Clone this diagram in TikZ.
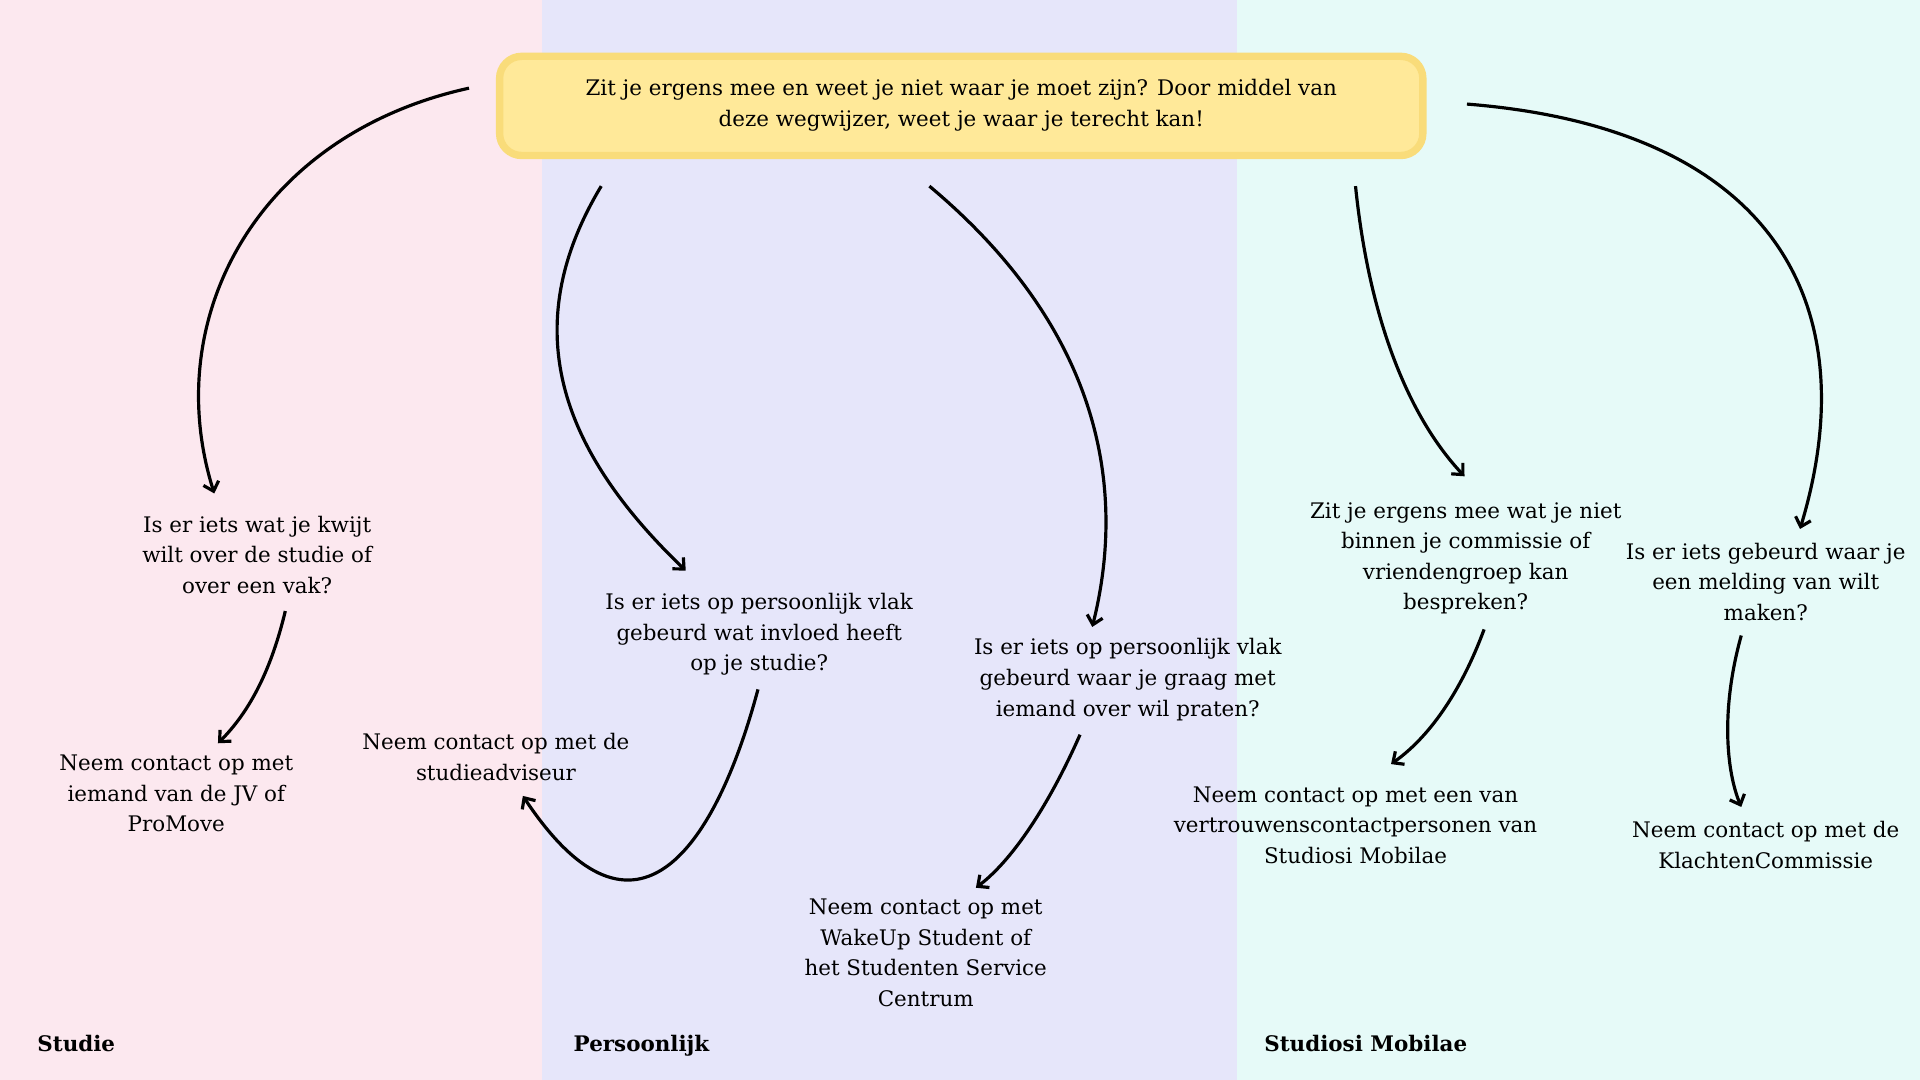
\documentclass[tikz,border=0pt]{standalone}
\usepackage{fontspec}
\setmainfont{DejaVu Serif}
\usetikzlibrary{arrows.meta}
\definecolor{studiebg}{HTML}{FCE8EF}
\definecolor{persbg}{HTML}{E6E6FA}
\definecolor{smbg}{HTML}{E6FAF8}
\definecolor{titlefill}{HTML}{FFE999}
\definecolor{titleline}{HTML}{F9DC7A}
\begin{document}
\begin{tikzpicture}[x=1pt,y=-1pt,
    every node/.style={align=center, font=\fontsize{17.5}{25}\selectfont},
    lane/.style={font=\fontsize{17.5}{25}\selectfont\bfseries},
    flow/.style={line width=2.6pt, -{Straight Barb[length=7pt,width=13pt]}}]
    
    \fill[studiebg] (0,0) rectangle (443,882);
    \fill[persbg] (443,0) rectangle (1010,882);
    \fill[smbg] (1010,0) rectangle (1568,882);
    \useasboundingbox (0,0) rectangle (1568,882);
    
    \draw[titleline, fill=titlefill, line width=6pt, rounded corners=18pt] (408,46) rectangle (1162,127);
    \node (title) at (785,86) {Zit je ergens mee en weet je niet waar je moet zijn? Door middel van\\deze wegwijzer, weet je waar je terecht kan!};
    
    \node (q1) at (210,453) {Is er iets wat je kwijt\\wilt over de studie of\\over een vak?};
    \node (a1) at (144,648) {Neem contact op met\\iemand van de JV of\\ProMove};
    \node (q2) at (620,518) {Is er iets op persoonlijk vlak\\gebeurd wat invloed heeft\\op je studie?};
    \node (a2) at (405,618) {Neem contact op met de\\studieadviseur};
    \node (q3) at (921,555) {Is er iets op persoonlijk vlak\\gebeurd waar je graag met\\iemand over wil praten?};
    \node (a3) at (756,778) {Neem contact op met\\WakeUp Student of\\het Studenten Service\\Centrum};
    \node (q4) at (1197,456) {Zit je ergens mee wat je niet\\binnen je commissie of\\vriendengroep kan\\bespreken?};
    \node (a4) at (1107,674) {Neem contact op met een van\\vertrouwenscontactpersonen van\\Studiosi Mobilae};
    \node (q5) at (1442,475) {Is er iets gebeurd waar je\\een melding van wilt\\maken?};
    \node (a5) at (1442,690) {Neem contact op met de\\KlachtenCommissie};
    
    \node[lane, anchor=base west] (lstudie) at (27,859) {Studie};
    \node[lane, anchor=base west] (lpers) at (465,859) {Persoonlijk};
    \node[lane, anchor=base west] (lsm) at (1029,859) {Studiosi Mobilae};
    
    % start and end points of the arrows
    \coordinate (t1) at (383,72);   \coordinate (e1) at (175,403);
    \coordinate (t2) at (491,152);  \coordinate (e2) at (560,466);
    \coordinate (t3) at (759,152);  \coordinate (e3) at (892,512);
    \coordinate (t4) at (1107,152); \coordinate (e4) at (1196,389);
    \coordinate (t5) at (1198,85);  \coordinate (e5) at (1470,432);
    \coordinate (s1) at (233,499);  \coordinate (f1) at (178,607);
    \coordinate (s2) at (619,563);  \coordinate (f2) at (427,650);
    \coordinate (s3) at (882,600);  \coordinate (f3) at (797,725);
    \coordinate (s4) at (1212,514); \coordinate (f4) at (1136,624);
    \coordinate (s5) at (1422,519); \coordinate (f5) at (1422,659);
    
    \draw[flow] (t1) .. controls (210,110) and (130,260) .. (e1);
    \draw[flow] (t2) .. controls (420,270) and (460,370) .. (e2);
    \draw[flow] (t3) .. controls (900,270) and (920,400) .. (e3);
    \draw[flow] (t4) .. controls (1118,260) and (1150,340) .. (e4);
    \draw[flow] (t5) .. controls (1450,105) and (1525,250) .. (e5);
    
    \draw[flow] (s1) .. controls (222,545) and (205,580) .. (f1);
    \draw[flow] (s2) .. controls (585,690) and (520,790) .. (f2);
    \draw[flow] (s3) .. controls (860,650) and (830,700) .. (f3);
    \draw[flow] (s4) .. controls (1195,560) and (1170,600) .. (f4);
    \draw[flow] (s5) .. controls (1405,580) and (1410,630) .. (f5);
\end{tikzpicture}
\end{document}
